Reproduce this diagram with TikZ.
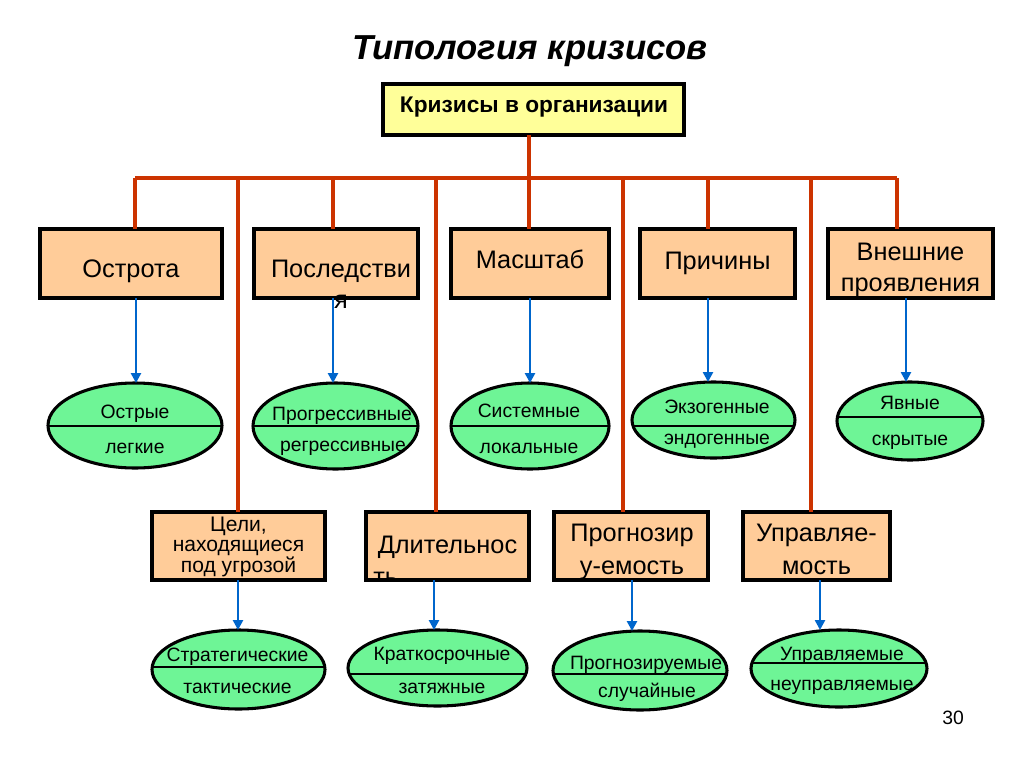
\documentclass[tikz,border=0pt]{standalone}
\usepackage{fontspec}
\setmainfont{Liberation Sans}
\usetikzlibrary{shapes.geometric,arrows.meta}
\definecolor{boxfill}{RGB}{255,204,153}
\definecolor{topfill}{RGB}{255,255,153}
\definecolor{ellfill}{RGB}{110,245,150}
\definecolor{redc}{RGB}{204,51,0}
\definecolor{bluec}{RGB}{0,102,204}
\tikzset{
  sz/.style 2 args={minimum width={#1*0.75pt}, minimum height={#2*0.75pt}},
  box/.style={rectangle, draw=black, line width=2.3pt, fill=boxfill, inner sep=0pt, outer sep=0pt},
  topbox/.style={box, fill=topfill},
  ell/.style={ellipse, draw=black, line width=2.3pt, fill=ellfill, inner sep=0pt, outer sep=0pt},
  divl/.style={draw=black, line width=0.9pt},
  redl/.style={draw=redc, line width=2.4pt},
  arr/.style={draw=bluec, line width=2pt, -{Triangle[length=7.5pt,width=7.5pt]}},
  bt/.style={font=\fontsize{19}{22}\selectfont, anchor=mid, inner sep=0pt, yshift=-3.5pt},
  et/.style={font=\fontsize{14.5}{17}\selectfont, anchor=mid, inner sep=0pt, yshift=-3pt},
  st/.style={font=\fontsize{15.8}{16}\selectfont, anchor=mid, inner sep=0pt, yshift=-3pt},
}
\newcommand\myoval[6]{%
  \node[ell, sz={#4}{#5}] (#1) at (#2,#3) {};
  \begin{scope}
    \clip (#2,#3) ellipse ({#4*0.375pt} and {#5*0.375pt});
    \draw[divl] ({#2-120},#6) -- ({#2+120},#6);
  \end{scope}}
\begin{document}
\begin{tikzpicture}[x=0.75pt,y=-0.75pt]
\useasboundingbox (0,0) rectangle (1024,767);
\fill[white] (0,0) rectangle (1024,767);

% title
\node[font=\fontsize{26}{30}\selectfont\bfseries\itshape, anchor=mid, inner sep=0pt] (title) at (530,56) {Типология кризисов};

% top box
\node[topbox, sz={301}{51}] (top) at (533.5,109.5) {};
\node[font=\fontsize{17}{20}\selectfont\bfseries, anchor=mid, inner sep=0pt] (toptxt) at (534,109) {Кризисы в организации};

% bus coordinates
\coordinate (hc) at (529,178);
\coordinate (h1) at (135,178);
\coordinate (h2) at (333,178);
\coordinate (h3) at (529,178);
\coordinate (h4) at (708,178);
\coordinate (h5) at (897,178);
\coordinate (l1) at (238,178);
\coordinate (l2) at (436,178);
\coordinate (l3) at (623,178);
\coordinate (l4) at (811,178);

% row 1 boxes
\node[box, sz={182}{69}] (b1) at (131,263.5) {};
\node[box, sz={164}{69}] (b2) at (336,263.5) {};
\node[box, sz={158}{69}] (b3) at (530,263.5) {};
\node[box, sz={155}{69}] (b4) at (717.5,263.5) {};
\node[box, sz={165}{69}] (b5) at (910.5,263.5) {};

% row 2 boxes
\node[box, sz={173}{68}] (c1) at (238.5,546) {};
\node[box, sz={163}{68}] (c2) at (447.5,546) {};
\node[box, sz={154}{68}] (c3) at (631,546) {};
\node[box, sz={147}{68}] (c4) at (816.5,546) {};

% red connectors
\draw[redl] (top.south -| hc) -- (hc);
\draw[redl] (h1) -- (h5);
\draw[redl] (h1) -- (b1.north -| h1);
\draw[redl] (h2) -- (b2.north -| h2);
\draw[redl] (h3) -- (b3.north -| h3);
\draw[redl] (h4) -- (b4.north -| h4);
\draw[redl] (h5) -- (b5.north -| h5);
\draw[redl] (l1) -- (c1.north -| l1);
\draw[redl] (l2) -- (c2.north -| l2);
\draw[redl] (l3) -- (c3.north -| l3);
\draw[redl] (l4) -- (c4.north -| l4);

% ellipses row 1
\myoval{e1}{135}{425.5}{174}{85}{426}
\myoval{e2}{335.5}{426}{165}{86}{426}
\myoval{e3}{530}{426}{158}{86}{426}
\myoval{e4}{713.5}{420}{163}{76}{426}
\myoval{e5}{910}{421}{146}{78}{417}
% ellipses row 2
\myoval{f1}{238.5}{669.5}{173}{79}{667}
\myoval{f2}{437.5}{668}{179}{76}{674}
\myoval{f3}{640}{670.5}{174}{79}{674}
\myoval{f4}{839}{668.5}{176}{77}{663}

% blue arrows
\coordinate (a1) at (136,0);
\coordinate (a2) at (333,0);
\coordinate (a3) at (530,0);
\coordinate (a4) at (708,0);
\coordinate (a5) at (906,0);
\coordinate (d1) at (238,0);
\coordinate (d2) at (434,0);
\coordinate (d3) at (632,0);
\coordinate (d4) at (820,0);
\draw[arr] (b1.south -| a1) -- (e1.north -| a1);
\draw[arr] (b2.south -| a2) -- (e2.north -| a2);
\draw[arr] (b3.south -| a3) -- (e3.north -| a3);
\draw[arr] (b4.south -| a4) -- (e4.north -| a4);
\draw[arr] (b5.south -| a5) -- (e5.north -| a5);
\draw[arr] (c1.south -| d1) -- (f1.north -| d1);
\draw[arr] (c2.south -| d2) -- (f2.north -| d2);
\draw[arr] (c3.south -| d3) -- (f3.north -| d3);
\draw[arr] (c4.south -| d4) -- (f4.north -| d4);

% row 1 box texts
\node[bt] (t1) at (131,269) {Острота};
\node[bt] (t2) at (341,269) {Последстви};
\node[bt] (t2b) at (341,300) {я};
\node[bt] (t3) at (530,260) {Масштаб};
\node[bt] (t4) at (717.5,261) {Причины};
\node[bt] (t5a) at (910.5,252) {Внешние};
\node[bt] (t5b) at (910.5,283) {проявления};

% row 2 box texts
\node[st] (u1a) at (238.5,524) {Цели,};
\node[st] (u1b) at (238.5,544) {находящиеся};
\node[st] (u1c) at (238.5,565) {под угрозой};
\node[bt] (u2) at (447.5,545) {Длительнос};
\begin{scope}
  \clip ([xshift=1.2pt,yshift=1.2pt]c2.south west) rectangle ([xshift=-1.2pt,yshift=-1.2pt]c2.north east);
  \node[bt, anchor=mid west] (u2b) at (373,577) {ть};
\end{scope}
\node[bt] (u3a) at (632,533) {Прогнозир};
\node[bt] (u3b) at (632,566) {у-емость};
\node[bt] (u4a) at (816.5,533) {Управляе-};
\node[bt] (u4b) at (816.5,566) {мость};

% ellipse texts row 1
\node[et] at (135,411) {Острые};
\node[et] at (135,446) {легкие};
\node[et] at (342,413) {Прогрессивные};
\node[et] at (343,444) {регрессивные};
\node[et] at (529,410) {Системные};
\node[et] at (529,446) {локальные};
\node[et] at (717,406) {Экзогенные};
\node[et] at (717,437) {эндогенные};
\node[et] at (910,402) {Явные};
\node[et] at (910,438) {скрытые};
% ellipse texts row 2
\node[et] at (237.5,654) {Стратегические};
\node[et] at (237.5,686) {тактические};
\node[et] at (442,653) {Краткосрочные};
\node[et] at (442,686) {затяжные};
\node[et] at (646,662) {Прогнозируемые};
\node[et] at (647,690) {случайные};
\node[et] at (842,653) {Управляемые};
\node[et] at (842,683) {неуправляемые};

% page number
\node[font=\fontsize{14.5}{17}\selectfont, anchor=mid, inner sep=0pt] (pg) at (953,721) {30};
\end{tikzpicture}
\end{document}
